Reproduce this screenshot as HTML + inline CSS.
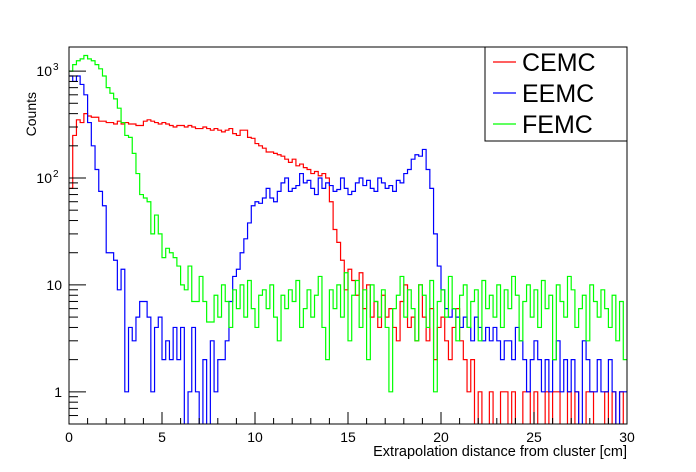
<!DOCTYPE html>
<html><head><meta charset="utf-8">
<style>
body{margin:0;background:#fff;}
svg{display:block;font-family:"Liberation Sans",sans-serif;}
</style></head>
<body>
<svg id="chart" width="696" height="472" viewBox="0 0 696 472">
<rect x="0" y="0" width="696" height="472" fill="#fff"/>
<defs><clipPath id="plotclip"><rect x="69" y="47" width="558" height="377"/></clipPath></defs>
<g id="series" clip-path="url(#plotclip)"></g>
<g id="axes"></g>
<rect x="69" y="47" width="558" height="377" fill="none" stroke="#000" stroke-width="1"/>
<text x="627" y="456" text-anchor="end" font-size="14.5">Extrapolation distance from cluster [cm]</text>
<text transform="translate(36,92) rotate(-90)" text-anchor="end" font-size="14">Counts</text>
<g>
<rect x="485" y="47" width="142" height="94" fill="#fff" stroke="#000" stroke-width="1"/>
<g><line x1="493" y1="62" x2="516" y2="62" stroke="#f00" stroke-width="1.2"/><text x="522" y="71" font-size="25">CEMC</text></g>
<g><line x1="493" y1="93" x2="516" y2="93" stroke="#00f" stroke-width="1.2"/><text x="522" y="102" font-size="25">EEMC</text></g>
<g><line x1="493" y1="124" x2="516" y2="124" stroke="#0f0" stroke-width="1.2"/><text x="522" y="133" font-size="25">FEMC</text></g>
</g>
</svg>
<script>
const binWidth = 0.2;
const xTicks = [0,5,10,15,20,25,30];
const xTickLabels = ["0","5","10","15","20","25","30"];
const yTicks = [1,10,100,1000];
const yTickLabels = ["1","10","10","10"];
const yTickSup = ["","","2","3"];
const cemc = [80,250,350,330,400,380,370,370,340,340,
330,330,320,340,320,330,320,320,310,310,
340,350,340,330,320,330,320,310,300,310,
310,300,310,300,290,290,300,290,280,290,
280,270,280,290,260,250,280,280,240,235,
210,200,190,175,175,170,165,160,150,140,
150,130,135,125,120,110,115,105,110,100,
60,33,25,17,9,
14,11,8,13,6,10,5,7,4,8,5,6,4,3,7,10,4,5,3,10,5,3,6,2,4,5,3,2,4,6,
3,2,1,2,0,1,0,0,1,0,0,1,1,0,1,0,0,1,1,0,1,0,0,1,0,1,1,0,0,1,0,1,0,0,1,1,0,0,0,1,0,1,0,1,0];
const eemc = [900,800,900,750,600,330,200,120,75,55,
20,20,17,9,14,1,4,3,5,7,7,5,1,4,5,2,3,2,4,2,4,0,1,4,1,0,2,0,3,1,2,2,
3,7,12,14,20,27,38,55,
60,58,65,80,65,60,75,90,100,75,
80,85,110,90,95,80,70,100,80,90,85,75,78,100,80,70,75,90,100,85,95,80,75,100,90,80,85,75,95,90,110,120,150,165,160,
185,120,80,30,15,9,
6,5,6,5,4,5,4,3,5,4,3,4,3,4,3,2,3,3,2,4,3,2,1,2,3,2,1,2,1,2,3,1,2,1,2,1,0,3,2,1,1,2,1,1,2,1,0,1,1];
const femc = [1000,1150,1250,1300,1400,1300,1250,1150,1050,900,700,620,550,450,330,
250,240,170,110,70,65,60,30,45,30,
18,22,20,18,15,10,9,15,7,7,12,7,4.5,4.5,8,
5,10,7,4,9,6,10,5,11,6,4,8,9,6,10,5,3,8,6,9,
7,11,4,6,9,5,8,12,4,2,9,6,10,5,13,3,8,11,4,9,
2,10,7,5,9,4,1,6,8,12,5,9,6,3,10,8,4,11,1,7,
9,5,12,6,3,8,10,4,7,9,3,11,6,8,5,10,4,9,6,12,
8,3,7,10,5,9,4,11,6,8,2,10,7,5,12,9,4,6,8,3,
10,7,5,9,6,4,8,3,7,2];

const X0=69,X1=627,Y0=424,Y1=47;
const xMin=0,xMax=30;
const logMin=Math.log10(0.5), logMax=Math.log10(1680);
function xs(v){return X0+(v-xMin)/(xMax-xMin)*(X1-X0);}
function ys(v){if(v<=0) return Y0+5; return Y0-(Math.log10(v)-logMin)/(logMax-logMin)*(Y0-Y1);}
const NS="http://www.w3.org/2000/svg";
const sg=document.getElementById('series');
function drawHist(vals,color,name){
  let d="";
  for(let i=0;i<vals.length;i++){
    const xa=xs(i*binWidth), xb=xs((i+1)*binWidth), y=ys(vals[i]);
    d += (i===0?"M"+xa+","+y:"V"+y)+"H"+xb;
  }
  const p=document.createElementNS(NS,'path');
  p.setAttribute('d',d);p.setAttribute('fill','none');p.setAttribute('stroke',color);p.setAttribute('stroke-width','1.2');
  
  
  sg.appendChild(p);
}
drawHist(cemc,'#f00','cemc-series');
drawHist(eemc,'#00f','eemc-series');
drawHist(femc,'#0f0','femc-series');

const ax=document.getElementById('axes');
function line(x1,y1,x2,y2){const l=document.createElementNS(NS,'line');l.setAttribute('x1',x1);l.setAttribute('y1',y1);l.setAttribute('x2',x2);l.setAttribute('y2',y2);l.setAttribute('stroke','#000');l.setAttribute('stroke-width','1');ax.appendChild(l);return l;}
for(let v=0;v<=30;v++){const x=xs(v);line(x,Y0,x,Y0-(v%5===0?12:6));}
xTicks.forEach((v,i)=>{
  const t=document.createElementNS(NS,'text');
  t.setAttribute('x',xs(v));t.setAttribute('y',442);t.setAttribute('text-anchor','middle');t.setAttribute('font-size','14');
  t.textContent=xTickLabels[i];
  
  
  ax.appendChild(t);
});
for(let d=-1;d<=3;d++){for(let m=1;m<10;m++){const v=m*Math.pow(10,d);if(v<0.5||v>1680)continue;const y=ys(v);line(X0,y,X0+(m===1?17:9),y);}}
yTicks.forEach((v,i)=>{
  const t=document.createElementNS(NS,'text');
  t.setAttribute('x',yTickSup[i]?52:62);t.setAttribute('y',ys(v)+5);t.setAttribute('text-anchor','end');t.setAttribute('font-size','14');
  t.textContent=yTickLabels[i];
  
  
  ax.appendChild(t);
  if(yTickSup[i]){
    const s=document.createElementNS(NS,'text');
    s.setAttribute('x',53);s.setAttribute('y',ys(v)-1);s.setAttribute('font-size','10');
    s.textContent=yTickSup[i];
    
    
    ax.appendChild(s);
  }
});
</script>
</body></html>
